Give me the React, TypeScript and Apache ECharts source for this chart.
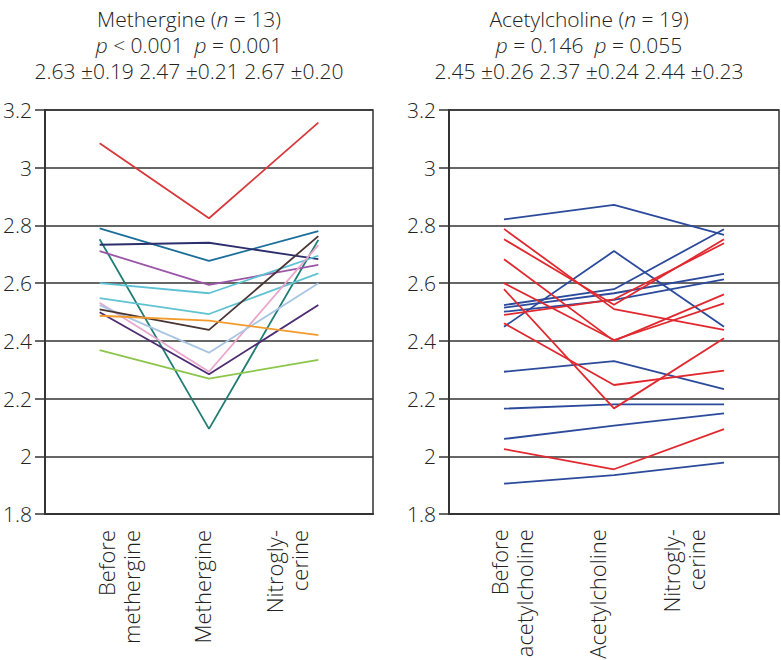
import React, { useEffect, useRef } from "react";
import * as echarts from "echarts";

const methergineCategories = ["Before\nmethergine", "Methergine", "Nitrogly-\ncerine"];
const acetylcholineCategories = ["Before\nacetylcholine", "Acetylcholine", "Nitrogly-\ncerine"];

const yTicksMin = 1.8;
const yTicksMax = 3.2;
const yTicksStep = 0.2;

// Methergine group (n = 13): before, methergine, nitroglycerine
const methergineValues: number[][] = [
  [3.085, 2.825, 3.156],
  [2.79, 2.677, 2.78],
  [2.752, 2.095, 2.75],
  [2.733, 2.74, 2.683],
  [2.711, 2.594, 2.663],
  [2.6, 2.565, 2.695],
  [2.548, 2.493, 2.634],
  [2.532, 2.293, 2.732],
  [2.524, 2.359, 2.6],
  [2.509, 2.438, 2.763],
  [2.499, 2.284, 2.524],
  [2.487, 2.47, 2.42],
  [2.368, 2.269, 2.334],
];
const methergineColors = [
  "#d8383a",
  "#1b6e9b",
  "#1f7d74",
  "#2c2f6c",
  "#9c55a8",
  "#5dc1d4",
  "#62c2d2",
  "#eba6cc",
  "#a8c6e4",
  "#4a3434",
  "#4d2b73",
  "#f29b2c",
  "#8cc54b",
];

// Acetylcholine group: before, acetylcholine, nitroglycerine
const acetylBlueValues: number[][] = [
  [2.821, 2.871, 2.767],
  [2.449, 2.711, 2.449],
  [2.524, 2.579, 2.787],
  [2.515, 2.565, 2.632],
  [2.501, 2.542, 2.613],
  [2.293, 2.33, 2.233],
  [2.165, 2.18, 2.18],
  [2.06, 2.106, 2.149],
  [1.905, 1.935, 1.978],
];
const acetylRedValues: number[][] = [
  [2.788, 2.51, 2.438],
  [2.752, 2.525, 2.752],
  [2.49, 2.544, 2.738],
  [2.683, 2.4, 2.561],
  [2.6, 2.403, 2.53],
  [2.579, 2.166, 2.409],
  [2.461, 2.247, 2.297],
  [2.025, 1.955, 2.094],
];
const acetylBlue = "#2c4a9b";
const acetylRed = "#e0292f";

const methergineTitle = "Methergine ({i|n} = 13)\n{i|p} < 0.001  {i|p} = 0.001\n2.63 ±0.19 2.47 ±0.21 2.67 ±0.20";
const acetylTitle = "Acetylcholine ({i|n} = 19)\n{i|p} = 0.146  {i|p} = 0.055\n2.45 ±0.26 2.37 ±0.24 2.44 ±0.23";

const FONT = "'Open Sans', 'Noto Sans', sans-serif";
const TEXT = "#222";
const AXIS = "#333";

export default function App() {
  const ref = useRef<HTMLDivElement>(null);
  useEffect(() => {
    if (!ref.current) return;
    const chart = echarts.init(ref.current, undefined, { renderer: "svg" });

    const titleStyle = {
      fontFamily: FONT,
      fontSize: 21,
      fontWeight: 300 as any,
      color: TEXT,
      lineHeight: 26,
      rich: {
        i: { fontFamily: FONT, fontSize: 21, fontStyle: "italic" as any, fontWeight: 300 as any, color: TEXT, lineHeight: 26 },
      },
    };

    const plotGrid = (left: number) => ({
      left,
      top: 110,
      width: 330,
      height: 404,
      show: true,
      borderColor: AXIS,
      borderWidth: 1.5,
      backgroundColor: "transparent",
    });

    const plotX = (gridIndex: number, data: string[]) => ({
      type: "category" as const,
      gridIndex,
      data,
      boundaryGap: true,
      axisLine: { show: true, lineStyle: { color: AXIS, width: 2 } },
      axisTick: { show: false },
      axisLabel: { show: false },
      splitLine: { show: false },
    });

    const plotY = (gridIndex: number) => ({
      type: "value" as const,
      gridIndex,
      min: yTicksMin,
      max: yTicksMax,
      interval: yTicksStep,
      axisLine: { show: true, lineStyle: { color: AXIS, width: 2 } },
      axisTick: { show: true, length: 10, inside: false, lineStyle: { color: AXIS, width: 1.5 } },
      axisLabel: {
        show: true,
        margin: 13,
        fontFamily: FONT,
        fontSize: 21,
        fontWeight: 300 as any,
        color: TEXT,
        formatter: (v: number) => String(Math.round(v * 10) / 10),
      },
      splitLine: { show: true, lineStyle: { color: AXIS, width: 1.5 } },
    });

    const labelGrid = (left: number, width: number) => ({
      left,
      top: 513,
      width,
      height: 1,
      show: false,
    });

    const labelX = (gridIndex: number, data: string[]) => ({
      type: "category" as const,
      gridIndex,
      data,
      boundaryGap: true,
      axisLine: { show: false },
      axisTick: { show: false },
      splitLine: { show: false },
      axisLabel: {
        show: true,
        interval: 0,
        rotate: 90,
        margin: 16,
        fontFamily: FONT,
        fontSize: 22,
        fontWeight: 300 as any,
        color: TEXT,
        lineHeight: 25,
      },
    });

    const labelY = (gridIndex: number) => ({
      type: "value" as const,
      gridIndex,
      show: false,
      min: 0,
      max: 1,
    });

    const lineSeries = (vals: number[], color: string, idx: number) => ({
      type: "line" as const,
      xAxisIndex: idx,
      yAxisIndex: idx,
      data: vals,
      symbol: "none",
      silent: true,
      lineStyle: { color, width: 1.8 },
      itemStyle: { color },
    });

    const series: any[] = [];
    methergineValues.forEach((v, i) => series.push(lineSeries(v, methergineColors[i], 0)));
    acetylBlueValues.forEach((v) => series.push(lineSeries(v, acetylBlue, 1)));
    acetylRedValues.forEach((v) => series.push(lineSeries(v, acetylRed, 1)));

    chart.setOption({
      animation: false,
      backgroundColor: "#fff",
      title: [
        { text: methergineTitle, left: 184, top: 1, textAlign: "center", textStyle: titleStyle },
        { text: acetylTitle, left: 584, top: 1, textAlign: "center", textStyle: titleStyle },
      ],
      grid: [plotGrid(43), plotGrid(449), labelGrid(76, 252), labelGrid(468, 258)],
      xAxis: [
        plotX(0, methergineCategories),
        plotX(1, acetylcholineCategories),
        labelX(2, methergineCategories),
        labelX(3, acetylcholineCategories),
      ],
      yAxis: [plotY(0), plotY(1), labelY(2), labelY(3)],
      series,
    });

    return () => chart.dispose();
  }, []);

  return (
    <div
      ref={ref}
      style={{ position: "fixed", left: 0, top: 0, width: 781, height: 660, background: "#fff" }}
    />
  );
}
